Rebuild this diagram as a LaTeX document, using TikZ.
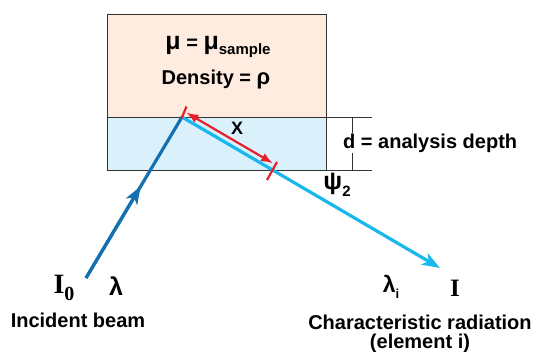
\documentclass[tikz,border=0pt]{standalone}
\usepackage{fontspec}
\setmainfont{Liberation Sans}
\newfontfamily\timesfont{Liberation Serif}
\usetikzlibrary{arrows.meta,positioning,calc}
\definecolor{peach}{RGB}{253,236,223}
\definecolor{paleblue}{RGB}{218,241,252}
\definecolor{beamdark}{RGB}{22,112,176}
\definecolor{beamcyan}{RGB}{24,183,236}
\definecolor{dimred}{RGB}{232,32,44}
\newcommand{\lowsub}[2]{\raisebox{-0.28em}{\fontsize{#1}{#1}\selectfont #2}}
\tikzset{
  lbl/.style={font=\bfseries\fontsize{20}{22}\selectfont, inner sep=1pt},
  greek/.style={font=\bfseries\fontsize{25}{25}\selectfont, inner sep=1pt},
  bigsym/.style={font=\timesfont\bfseries\fontsize{28}{28}\selectfont, inner sep=1pt},
  boxline/.style={draw=black!80, line width=0.9pt},
  incident/.style={draw=beamdark, line width=3.2pt},
  emitted/.style={draw=beamcyan, line width=3.2pt},
  dimline/.style={draw=dimred, line width=2.2pt},
  beamtip/.style={-{Stealth[length=18pt,width=13pt,inset=5pt]}},
}
\begin{document}
\begin{tikzpicture}[x=1pt,y=-1pt]
\useasboundingbox (0,0) rectangle (543,352);
% sample block
\fill[peach] (107,14) rectangle (326,117);
\fill[paleblue] (107,117) rectangle (326,170);
\draw[boxline] (107,14) rectangle (326,170);
\coordinate (topR) at (372,117);
\coordinate (botR) at (372,170);
\draw[boxline] (107,117) -- (topR);
\draw[boxline] (107,170) -- (botR);
\draw[boxline] (352,117) -- (352,170);
\node[lbl] (mu) at (218,47) {{\fontsize{25}{25}\selectfont μ} = {\fontsize{25}{25}\selectfont μ}\lowsub{15}{sample}};
\node[lbl] (dens) at (216,80) {Density = {\fontsize{22}{22}\selectfont ρ}};
\node[lbl, fill=white, anchor=west] (depth) at (342,143) {d = analysis depth};
% beams
\coordinate (src) at (86,278);
\coordinate (apex) at (182,117);
\coordinate (dst) at (440,268);
\draw[incident] (src) -- (apex);
\draw[incident, beamtip] (src) -- ($(src)!0.57!(apex)$);
\draw[emitted, beamtip] (apex) -- (dst);
% path length x
\coordinate (xa) at (186.3,112.6);
\coordinate (xb) at (273,163.3);
\draw[dimline] (181.5,118.5) -- (186.5,106.5);
\draw[dimline] (267,180) -- (277,162);
\draw[dimline, {Latex[length=12pt,width=9pt]}-{Latex[length=12pt,width=9pt]}] (xa) -- (xb);
\node[lbl, font=\bfseries\fontsize{18}{18}\selectfont] (xlab) at (237,128) {X};
\node[greek] (psi) at (337,185) {ψ\lowsub{15}{2}};
% labels
\node[bigsym] (izero) at (64,288) {I\lowsub{20}{0}};
\node[greek] (lam) at (116,286) {λ};
\node[lbl] (inc) at (78,320) {Incident beam};
\node[greek, font=\bfseries\fontsize{23}{23}\selectfont] (lami) at (391,287) {λ\lowsub{13}{i}};
\node[bigsym, font=\timesfont\bfseries\fontsize{25}{25}\selectfont] (iout) at (455,288) {I};
\node[lbl] (char) at (420,322) {Characteristic radiation};
\node[lbl] (elem) at (420,343) {(element i)};
\end{tikzpicture}
\end{document}
